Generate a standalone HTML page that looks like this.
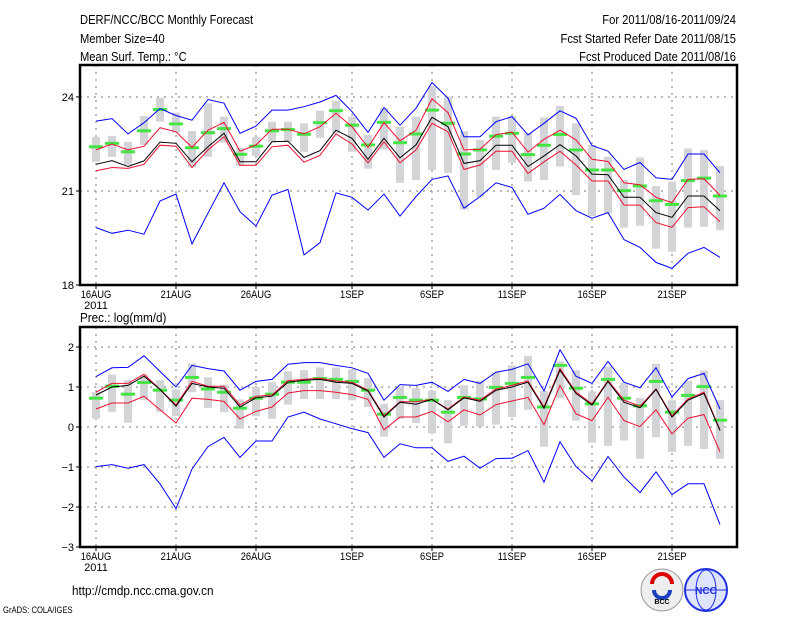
<!DOCTYPE html>
<html><head><meta charset="utf-8">
<style>
html,body{margin:0;padding:0;background:#fff;}
svg{display:block;}
text{font-family:"Liberation Sans",sans-serif;fill:#000;}
</style></head>
<body>
<svg id="chart" width="800" height="618" viewBox="0 0 800 618" xmlns="http://www.w3.org/2000/svg">
<g font-size="13">
<text x="80" y="24" transform="translate(80 0) scale(0.86 1) translate(-80 0)">DERF/NCC/BCC Monthly Forecast</text>
<text x="80" y="43" transform="translate(80 0) scale(0.86 1) translate(-80 0)">Member Size=40</text>
<text x="80" y="61" transform="translate(80 0) scale(0.86 1) translate(-80 0)">Mean Surf. Temp.: °C</text>
<text x="736" y="24" text-anchor="end" transform="translate(736 0) scale(0.86 1) translate(-736 0)">For 2011/08/16-2011/09/24</text>
<text x="736" y="43" text-anchor="end" transform="translate(736 0) scale(0.86 1) translate(-736 0)">Fcst Started Refer Date 2011/08/15</text>
<text x="736" y="61" text-anchor="end" transform="translate(736 0) scale(0.86 1) translate(-736 0)">Fcst Produced Date 2011/08/16</text>
</g>
<text x="80" y="322" font-size="13" transform="translate(80 0) scale(0.9 1) translate(-80 0)">Prec.: log(mm/d)</text>
<g id="p1"></g>
<g id="p2"></g>
<text x="72" y="595" font-size="13" transform="translate(72 0) scale(0.9 1) translate(-72 0)">http://cmdp.ncc.cma.gov.cn</text>
<text x="3" y="613" font-size="9" transform="translate(3 0) scale(0.85 1) translate(-3 0)">GrADS: COLA/IGES</text>
<g>
<circle cx="662" cy="590" r="21" fill="#eee" stroke="#999"/>
<path d="M652 584 a10 10 0 1 1 20 0" fill="none" stroke="#d00" stroke-width="4"/>
<path d="M654 590 a8 8 0 0 0 16 0" fill="none" stroke="#1a3fc0" stroke-width="4"/>
<text x="662" y="604" font-size="7" text-anchor="middle" font-weight="bold">BCC</text>
</g>
<g>
<circle cx="706" cy="590" r="21" fill="#dfe4ff" stroke="#2030e0" stroke-width="2"/>
<ellipse cx="706" cy="590" rx="10" ry="20" fill="none" stroke="#2030e0"/>
<line x1="686" y1="590" x2="726" y2="590" stroke="#2030e0"/>
<text x="706" y="594" font-size="10" text-anchor="middle" font-weight="bold" fill="#2030e0" style="fill:#2030e0">NCC</text>
</g>
</svg>
<script>
const dayLabels = ["16AUG","21AUG","26AUG","1SEP","6SEP","11SEP","16SEP","21SEP"];
const dayLabelIdx = [0,5,10,16,21,26,31,36];
const tTicks = [18,21,24];
const pTicks = [-3,-2,-1,0,1,2];

const tBlack = [21.85,21.97,21.78,21.96,22.56,22.52,21.93,22.41,22.84,21.93,21.93,22.57,22.59,22.07,22.29,22.94,22.68,22.01,22.68,22.06,22.47,23.35,23.05,21.88,21.97,22.46,22.46,21.78,22.12,22.48,22.12,21.54,21.52,20.80,20.80,20.31,20.16,20.84,20.84,20.37];
const tRedHi = [22.31,22.50,22.31,22.43,23.02,22.89,22.39,22.94,23.19,22.27,22.47,22.97,22.97,22.82,23.05,23.48,23.05,22.39,23.18,22.60,22.94,23.94,23.50,22.31,22.33,22.80,22.88,22.24,22.65,22.94,22.63,22.01,21.94,21.26,21.20,20.80,20.63,21.37,21.39,20.86];
const tRedLo = [21.64,21.75,21.72,21.85,22.46,22.43,21.75,22.31,22.73,21.82,21.82,22.41,22.46,21.92,22.14,22.82,22.50,21.90,22.57,21.90,22.31,23.16,22.89,21.69,21.83,22.27,22.27,21.56,21.93,22.27,21.83,21.32,21.32,20.55,20.55,19.99,19.84,20.47,20.50,20.02];
const tBlueHi = [23.23,23.31,22.82,23.18,23.63,23.41,23.26,23.92,23.80,22.84,23.07,23.58,23.58,23.69,23.84,24.05,23.53,22.87,23.66,23.10,23.64,24.46,23.96,22.73,22.73,23.21,23.37,22.79,23.16,23.56,23.32,22.45,22.27,21.69,21.91,21.42,21.37,22.18,22.18,21.58];
const tBlueLo = [19.83,19.65,19.75,19.62,20.68,20.90,19.31,20.29,21.26,20.34,19.88,20.87,21.05,18.96,19.35,20.94,20.80,20.39,20.90,20.20,20.82,21.37,21.48,20.45,20.82,21.26,21.11,20.26,20.45,20.89,20.37,20.13,20.31,19.45,19.20,18.72,18.53,19.01,19.20,18.88];
const tGreen = [22.41,22.52,22.25,22.92,23.60,23.14,22.38,22.86,22.99,22.17,22.43,22.92,22.96,22.81,23.18,23.56,23.10,22.47,23.19,22.54,22.82,23.58,23.16,22.18,22.31,22.75,22.84,22.16,22.46,22.80,22.31,21.67,21.67,21.01,21.16,20.69,20.57,21.33,21.41,20.84];
const tBoxHi = [22.73,22.76,22.57,23.39,23.97,23.50,22.91,23.80,23.37,22.38,22.73,23.21,23.21,23.16,23.56,23.88,23.37,22.79,23.64,23.05,23.37,24.33,24.01,22.91,22.63,23.37,23.39,22.84,23.34,23.71,23.16,22.47,22.09,21.35,22.07,21.16,21.30,22.36,22.31,21.80];
const tBoxLo = [21.93,22.09,21.83,22.47,23.21,22.86,21.75,22.09,22.54,21.80,22.12,22.57,22.57,22.25,22.70,22.84,22.25,21.71,22.33,21.26,21.35,21.67,21.58,20.41,20.80,21.67,21.90,21.30,21.35,21.78,20.87,20.20,20.29,19.83,19.89,19.16,19.06,19.83,19.86,19.75];

const pBlack = [0.80,1.00,1.04,1.27,0.94,0.52,1.09,1.00,0.97,0.50,0.73,0.77,1.12,1.17,1.19,1.12,1.09,0.90,0.25,0.62,0.57,0.69,0.43,0.73,0.64,0.92,1.00,1.12,0.47,1.42,0.84,0.55,1.14,0.62,0.48,0.94,0.25,0.67,0.84,-0.09];
const pRedHi = [0.87,1.09,1.09,1.32,0.94,0.55,1.14,1.02,1.02,0.55,0.77,0.80,1.16,1.19,1.22,1.15,1.12,0.92,0.28,0.63,0.63,0.69,0.45,0.75,0.67,0.95,1.04,1.15,0.50,1.46,0.87,0.58,1.16,0.67,0.52,0.95,0.28,0.70,0.87,-0.07];
const pRedLo = [0.45,0.60,0.60,0.77,0.43,0.10,0.72,0.69,0.64,0.20,0.39,0.50,0.85,0.91,0.91,0.87,0.81,0.69,-0.07,0.25,0.25,0.39,0.13,0.43,0.30,0.56,0.65,0.74,0.06,1.04,0.33,0.16,0.74,0.16,0.01,0.43,-0.17,0.22,0.31,-0.62];
const pBlueHi = [1.26,1.48,1.49,1.78,1.39,1.00,1.54,1.46,1.40,0.92,1.14,1.19,1.57,1.61,1.61,1.54,1.48,1.34,0.67,1.06,1.04,1.12,0.89,1.19,1.09,1.37,1.44,1.58,0.90,1.93,1.27,1.09,1.64,1.12,0.98,1.48,0.75,1.21,1.34,0.45];
const pBlueLo = [-0.99,-0.94,-1.03,-0.94,-1.42,-2.04,-1.05,-0.49,-0.26,-0.76,-0.35,-0.35,0.25,0.37,0.20,0.08,-0.04,-0.14,-0.76,-0.42,-0.52,-0.52,-0.86,-0.73,-1.03,-0.79,-0.78,-0.59,-1.38,-0.37,-0.99,-1.35,-0.74,-1.25,-1.64,-1.12,-1.69,-1.42,-1.42,-2.44];
const pGreen = [0.72,1.02,0.82,1.11,0.92,0.67,1.24,0.95,0.87,0.47,0.72,0.82,1.12,1.12,1.21,1.19,1.14,0.92,0.32,0.74,0.67,0.67,0.37,0.74,0.70,0.99,1.09,1.24,0.50,1.54,0.97,0.58,1.19,0.72,0.53,1.14,0.37,0.79,1.01,0.17];
const pBoxHi = [0.87,1.31,1.17,1.31,1.17,0.94,1.59,1.24,1.06,0.69,1.00,1.12,1.39,1.42,1.49,1.49,1.44,1.22,0.58,1.00,0.97,0.91,0.67,1.04,1.16,1.37,1.54,1.78,0.90,1.64,1.42,0.89,1.51,1.10,0.73,1.58,0.67,1.16,1.41,0.67];
const pBoxLo = [0.21,0.38,0.11,0.67,0.38,0.27,0.87,0.48,0.37,-0.04,0.27,0.21,0.56,0.70,0.70,0.70,0.67,0.50,-0.24,0.20,0.10,-0.16,-0.41,0.03,0.01,0.06,0.25,0.43,-0.49,0.72,0.16,-0.39,-0.47,-0.34,-0.79,-0.26,-0.62,-0.47,-0.55,-0.79];

const NS = "http://www.w3.org/2000/svg";
const X0 = 80, X1 = 737;
function xDay(i){ return 96 + 16*i; }
function mk(parent, tag, attrs){
  const e = document.createElementNS(NS, tag);
  for (const k in attrs) e.setAttribute(k, attrs[k]);
  parent.appendChild(e);
  return e;
}
function panel(g, top, bot, vmin, vmax, ticks, gridVals, S, name){
  const y = v => bot - (v - vmin) / (vmax - vmin) * (bot - top);
  // grid
  gridVals.forEach(v => {
    const l = mk(g, "line", {x1:X0, x2:X1, y1:y(v), y2:y(v), stroke:"#777", "stroke-dasharray":"2,5"});
    
    
  });
  dayLabelIdx.forEach(i => {
    const l = mk(g, "line", {x1:xDay(i), x2:xDay(i), y1:top, y2:bot, stroke:"#777", "stroke-dasharray":"2,5"});
    
    
  });
  // boxes
  S.boxHi.forEach((hi, i) => {
    const lo = S.boxLo[i];
    const r = mk(g, "rect", {x:xDay(i)-4, y:y(hi), width:8, height:Math.max(1, y(lo)-y(hi)), fill:"#d3d4d8"});
    
    
  });
  // green markers
  S.green.forEach((v, i) => {
    const r = mk(g, "rect", {x:xDay(i)-7, y:y(v)-1.5, width:14, height:3, fill:"#44e444"});
    
    
  });
  function line(arr, color, nm){
    const pts = arr.map((v, i) => xDay(i) + "," + y(v).toFixed(1)).join(" ");
    const p = mk(g, "polyline", {points:pts, fill:"none", stroke:color, "stroke-width":1});
    
    
  }
  line(S.blueHi, "#0000ff", name + "-max-line");
  line(S.blueLo, "#0000ff", name + "-min-line");
  line(S.redHi, "#ee1030", name + "-upper-line");
  line(S.redLo, "#ee1030", name + "-lower-line");
  line(S.black, "#000", name + "-ensemble-mean-line");
  // frame
  const f = mk(g, "rect", {x:X0, y:top, width:X1-X0, height:bot-top, fill:"none", stroke:"#000", "stroke-width":2.5});
  
  
  ticks.forEach(v => {
    const t = mk(g, "line", {x1:X0-4, x2:X0, y1:y(v), y2:y(v), stroke:"#000"});
    
    
    const tx = mk(g, "text", {x:X0-6, y:y(v)+4, "font-size":11, "text-anchor":"end"});
    tx.textContent = (v < 0 ? "\u2212" + (-v) : String(v));
    
    
  });
  dayLabelIdx.forEach((i, k) => {
    const t = mk(g, "line", {x1:xDay(i), x2:xDay(i), y1:bot, y2:bot+4, stroke:"#000"});
    
    
    const tx = mk(g, "text", {x:xDay(i), y:bot+13, "font-size":11, "text-anchor":"middle", transform:"translate("+xDay(i)+" 0) scale(0.85 1) translate("+(-xDay(i))+" 0)"});
    tx.textContent = dayLabels[k];
    
    
  });
  const yr = mk(g, "text", {x:xDay(0), y:bot+24, "font-size":11, "text-anchor":"middle"});
  yr.textContent = "2011";
  
  
}
panel(document.getElementById("p1"), 65, 285, 18, 25.02, tTicks, [21,24], {boxHi:tBoxHi, boxLo:tBoxLo, green:tGreen, black:tBlack, redHi:tRedHi, redLo:tRedLo, blueHi:tBlueHi, blueLo:tBlueLo}, "temp");
panel(document.getElementById("p2"), 327, 547, -3, 2.5, pTicks, [-2,-1,0,1,2], {boxHi:pBoxHi, boxLo:pBoxLo, green:pGreen, black:pBlack, redHi:pRedHi, redLo:pRedLo, blueHi:pBlueHi, blueLo:pBlueLo}, "precip");
</script>
</body></html>
